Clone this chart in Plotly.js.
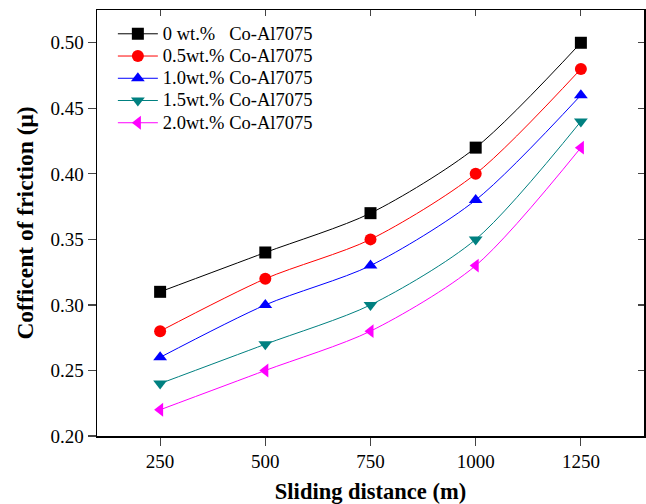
<!DOCTYPE html>
<html><head><meta charset="utf-8">
<script src="https://cdn.plot.ly/plotly-3.0.1.min.js"></script>
<style>html,body{margin:0;padding:0;background:#fff}</style>
</head><body>
<div id="chart" style="width:646px;height:504px"></div>
<script>
const distance = [250, 500, 750, 1000, 1250];
const cof0 = [0.31, 0.34, 0.37, 0.42, 0.50];
const cof05 = [0.28, 0.32, 0.35, 0.40, 0.48];
const cof10 = [0.26, 0.30, 0.33, 0.38, 0.46];
const cof15 = [0.24, 0.27, 0.30, 0.35, 0.44];
const cof20 = [0.22, 0.25, 0.28, 0.33, 0.42];
const names = ['0 wt.%\u00a0\u00a0\u00a0Co-Al7075', '0.5wt.% Co-Al7075', '1.0wt.% Co-Al7075', '1.5wt.% Co-Al7075', '2.0wt.% Co-Al7075'];
const colors = ['#000000', '#ff0000', '#0000ff', '#008080', '#ff00ff'];
const symbols = ['square', 'circle', 'triangle-up', 'triangle-down', 'triangle-left'];
const series = [cof0, cof05, cof10, cof15, cof20];
const xTicks = [250, 500, 750, 1000, 1250];
const yTicks = [0.20, 0.25, 0.30, 0.35, 0.40, 0.45, 0.50];

const traces = series.map((s, i) => ({
  x: distance, y: s, name: '<span style="font-size:18.5px">' + names[i] + '</span>',
  type: 'scatter', mode: 'lines+markers',
  line: {color: colors[i], width: 1, shape: 'spline', smoothing: 0.8},
  marker: {color: colors[i], symbol: symbols[i], size: 12}
}));
traces.push({x: [distance[0]], y: [cof0[0]], xaxis: 'x2', yaxis: 'y2', mode: 'markers',
  marker: {opacity: 0}, showlegend: false, hoverinfo: 'skip'});

const fam = 'Liberation Serif, Times New Roman, serif';
const layout = {
  width: 646, height: 504,
  margin: {l: 97, r: 2, t: 10, b: 68},
  paper_bgcolor: '#fff', plot_bgcolor: '#fff',
  font: {family: fam, size: 17, color: '#000'},
  showlegend: true,
  legend: {x: 0.029, y: 0.982, xanchor: 'left', yanchor: 'top', bgcolor: 'rgba(0,0,0,0)',
    font: {family: fam, size: 14.8, color: '#000'}, tracegroupgap: 0, itemwidth: 40},
  xaxis: {range: [100, 1400], tickvals: xTicks, ticktext: xTicks.map(String),
    ticks: 'outside', ticklen: 8, tickwidth: 1.2, showline: true, linewidth: 1.5, linecolor: '#000',
    showgrid: false, zeroline: false, tickfont: {family: fam, size: 19},
    title: {text: '<b>Sliding distance (m)</b>', font: {family: fam, size: 22.5}, standoff: 14}},
  yaxis: {range: [0.20, 0.525], tickvals: yTicks, ticktext: yTicks.map(v => v.toFixed(2)),
    ticks: 'outside', ticklen: 8, tickwidth: 1.2, showline: true, linewidth: 1.5, linecolor: '#000',
    showgrid: false, zeroline: false, tickfont: {family: fam, size: 19},
    title: {text: '<b>Cofficent of friction (\u03bc)</b>', font: {family: fam, size: 23.5}, standoff: 10}},
  xaxis2: {overlaying: 'x', side: 'top', range: [100, 1400], tickvals: xTicks, ticks: 'inside',
    ticklen: 6, tickwidth: 1.2, showticklabels: false, showline: true, linewidth: 1.5, linecolor: '#000',
    showgrid: false, zeroline: false},
  yaxis2: {overlaying: 'y', side: 'right', range: [0.20, 0.525], tickvals: yTicks, ticks: 'inside',
    ticklen: 6, tickwidth: 1.2, showticklabels: false, showline: true, linewidth: 1.5, linecolor: '#000',
    showgrid: false, zeroline: false}
};
Plotly.newPlot('chart', traces, layout, {displayModeBar: false, staticPlot: true});
</script>
</body></html>
